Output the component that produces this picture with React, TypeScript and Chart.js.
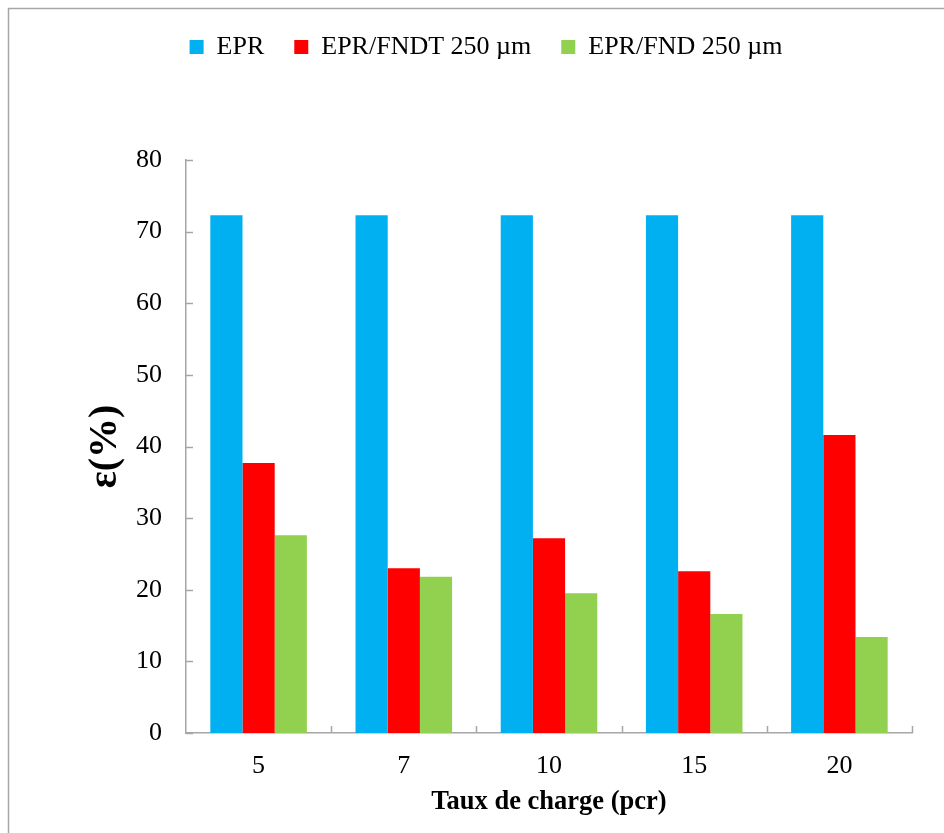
import React, { useEffect, useRef } from "react";
import { Chart, registerables } from "chart.js";

Chart.register(...registerables);

const categories = ["5", "7", "10", "15", "20"];
const eprValues = [72.3, 72.3, 72.3, 72.3, 72.3];
const fndtValues = [37.7, 23.0, 27.2, 22.6, 41.6];
const fndValues = [27.6, 21.8, 19.5, 16.6, 13.4];
const seriesLabels = ["EPR", "EPR/FNDT 250 µm", "EPR/FND 250 µm"];
const xTitle = "Taux de charge (pcr)";
const yTitle = "ε(%)";

const BLUE = "#00B0F0";
const RED = "#FF0000";
const GREEN = "#92D050";
const AXIS = "#A6A6A6";
const FONT = "'Liberation Serif', 'Times New Roman', serif";

const decorPlugin = {
  id: "decor",
  afterDraw(chart: any) {
    const { ctx } = chart;
    const x = chart.scales.x;
    const y = chart.scales.y;
    ctx.save();
    ctx.strokeStyle = AXIS;
    ctx.lineWidth = 1.5;
    // frame
    ctx.beginPath();
    ctx.moveTo(8.5, chart.height);
    ctx.lineTo(8.5, 8.5);
    ctx.lineTo(chart.width, 8.5);
    ctx.stroke();
    // inward y ticks
    y.ticks.forEach((_t: any, i: number) => {
      const py = Math.round(y.getPixelForTick(i)) + 0.5;
      ctx.beginPath();
      ctx.moveTo(x.left, py);
      ctx.lineTo(x.left + 7, py);
      ctx.stroke();
    });
    // inward x ticks at category boundaries
    for (let i = 0; i < categories.length; i++) {
      const px = Math.round(x.getPixelForValue(i + 0.5)) + 0.5;
      ctx.beginPath();
      ctx.moveTo(px, y.bottom);
      ctx.lineTo(px, y.bottom - 7);
      ctx.stroke();
    }
    ctx.restore();
  },
};

export default function App() {
  const ref = useRef<HTMLCanvasElement | null>(null);
  useEffect(() => {
    document.body.style.margin = "0";
    const canvas = ref.current;
    if (!canvas) return;
    const chart = new Chart(canvas, {
      type: "bar",
      data: {
        labels: categories,
        datasets: [
          { label: seriesLabels[0], data: eprValues, backgroundColor: BLUE },
          { label: seriesLabels[1], data: fndtValues, backgroundColor: RED },
          { label: seriesLabels[2], data: fndValues, backgroundColor: GREEN },
        ],
      },
      options: {
        animation: false,
        responsive: false,
        devicePixelRatio: 1,
        layout: { padding: { top: 4, left: 60, right: 32, bottom: 0 } },
        datasets: { bar: { categoryPercentage: 0.665, barPercentage: 1 } },
        plugins: {
          tooltip: { enabled: false },
          legend: {
            position: "top",
            labels: {
              boxWidth: 14,
              boxHeight: 14,
              padding: 30,
              color: "#000",
              font: { family: FONT, size: 26 },
            },
          },
          title: {
            display: true,
            text: "",
            weight: 500,
            padding: { top: 0, bottom: 78 },
            font: { size: 10 },
          },
        },
        scales: {
          x: {
            grid: { display: false, drawTicks: false },
            border: { display: true, color: AXIS, width: 1.5 },
            ticks: { color: "#000", padding: 18, font: { family: FONT, size: 26 } },
            title: {
              display: true,
              text: xTitle,
              color: "#000",
              padding: { top: 0, bottom: 15 },
              font: { family: FONT, size: 26.5, weight: "bold" },
            },
            afterFit(scale: any) {
              scale.height = 100;
            },
          },
          y: {
            min: 0,
            max: 80,
            grid: { display: false, drawTicks: false },
            border: { display: true, color: AXIS, width: 1.5 },
            ticks: { stepSize: 10, color: "#000", padding: 24, font: { family: FONT, size: 26 } },
            title: {
              display: true,
              text: yTitle,
              color: "#000",
              padding: { top: 22, bottom: 0 },
              font: { family: FONT, size: 40, weight: "bold" },
            },
            afterFit(scale: any) {
              scale.width = 126;
            },
          },
        },
      },
      plugins: [decorPlugin],
    } as any);
    return () => chart.destroy();
  }, []);
  return (
    <div style={{ width: 944, height: 833, position: "relative" }}>
      <canvas ref={ref} width={944} height={833} style={{ width: 944, height: 833, display: "block" }} />
    </div>
  );
}
